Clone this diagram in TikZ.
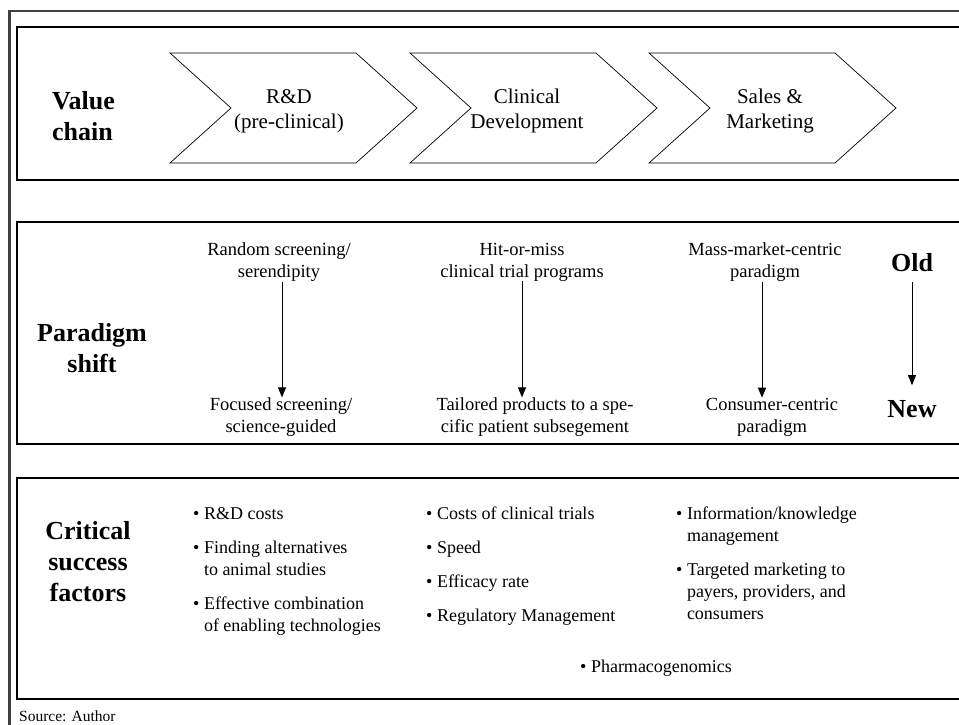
\documentclass[tikz,border=0pt]{standalone}
\usepackage{fontspec}
\setmainfont{Liberation Serif}
\usetikzlibrary{arrows.meta}
\begin{document}
\begin{tikzpicture}[x=1pt,y=-1pt,
  frame/.style={draw=black!75,line width=2.6pt},
  panel/.style={draw=black,line width=1.1pt},
  chevron/.style={draw=black,line width=0.7pt},
  heading/.style={font=\fontsize{26}{31}\selectfont\bfseries,align=center,inner sep=0pt},
  stage/.style={font=\fontsize{21}{25}\selectfont,align=center,inner sep=0pt},
  shifttext/.style={font=\fontsize{18.5}{22}\selectfont,align=center,inner sep=0pt},
  factors/.style={font=\fontsize{18}{22}\selectfont,align=left,inner sep=0pt,anchor=north west},
  shiftarrow/.style={draw=black,line width=0.9pt,-{Triangle[length=10pt,width=8pt]}},
]
\useasboundingbox (0,0) rectangle (959,725);

% outer frame and the three panels (they run past the right edge)
\draw[frame] (9.5,760) -- (9.5,11) -- (990,11);
\draw[panel] (990,27) -- (17,27) -- (17,180) -- (990,180);
\draw[panel] (990,222) -- (17,222) -- (17,444) -- (990,444);
\draw[panel] (990,478) -- (17,478) -- (17,699) -- (990,699);

% value chain
\node[heading,align=left,anchor=west] (vc) at (52,116) {Value\\chain};
\foreach \x in {170,410,649}
  \draw[chevron] (\x,53) -- ++(186,0) -- ++(61,55) -- ++(-61,55) -- ++(-186,0) -- ++(61,-55) -- cycle;
\node[stage] (s1) at (289,111) {R\&D\\(pre-clinical)};
\node[stage] (s2) at (527,111) {Clinical\\Development};
\node[stage] (s3) at (770,111) {Sales \&\\Marketing};

% paradigm shift
\node[heading] (ps) at (92,348) {Paradigm\\shift};
\node[shifttext] (o1) at (279,262) {Random screening/\\serendipity};
\node[shifttext] (o2) at (522,262) {Hit-or-miss\\clinical trial programs};
\node[shifttext] (o3) at (765,262) {Mass-market-centric\\paradigm};
\node[shifttext] (n1) at (281,417) {Focused screening/\\science-guided};
\node[shifttext] (n2) at (535,417) {Tailored products to a spe-\\cific patient subsegement};
\node[shifttext] (n3) at (772,417) {Consumer-centric\\paradigm};
\node[heading] (old) at (912,263) {Old};
\node[heading] (new) at (912,409) {New};

\coordinate (a1) at (282,0);
\coordinate (a2) at (522,0);
\coordinate (a3) at (762,0);
\draw[shiftarrow] (o1.south -| a1) -- (n1.north -| a1);
\draw[shiftarrow] (o2.south -| a2) -- (n2.north -| a2);
\draw[shiftarrow] (o3.south -| a3) -- (n3.north -| a3);
\draw[shiftarrow,shorten <=10pt,shorten >=15pt] (old) -- (new);

% critical success factors
\node[heading] (csf) at (88,562) {Critical\\success\\factors};
\node[factors] (f1) at (193,503.6) {\begin{tabular}{@{}l@{\ }l@{}}
  \textbullet & R\&D costs\\[12pt]
  \textbullet & Finding alternatives\\
              & to animal studies\\[12pt]
  \textbullet & Effective combination\\
              & of enabling technologies
\end{tabular}};
\node[factors] (f2) at (426,503.6) {\begin{tabular}{@{}l@{\ }l@{}}
  \textbullet & Costs of clinical trials\\[12pt]
  \textbullet & Speed\\[12pt]
  \textbullet & Efficacy rate\\[12pt]
  \textbullet & Regulatory Management
\end{tabular}};
\node[factors] (f3) at (676,503.6) {\begin{tabular}{@{}l@{\ }l@{}}
  \textbullet & Information/knowledge\\
              & management\\[12pt]
  \textbullet & Targeted marketing to\\
              & payers, providers, and\\
              & consumers
\end{tabular}};
\node[font=\fontsize{18}{22}\selectfont,anchor=base west,inner sep=0pt] (pg) at (580,672) {\textbullet\ Pharmacogenomics};

% source line
\node[font=\fontsize{15.5}{18}\selectfont,anchor=base west,inner sep=0pt] (src) at (19,721) {Source: Author};
\end{tikzpicture}
\end{document}
